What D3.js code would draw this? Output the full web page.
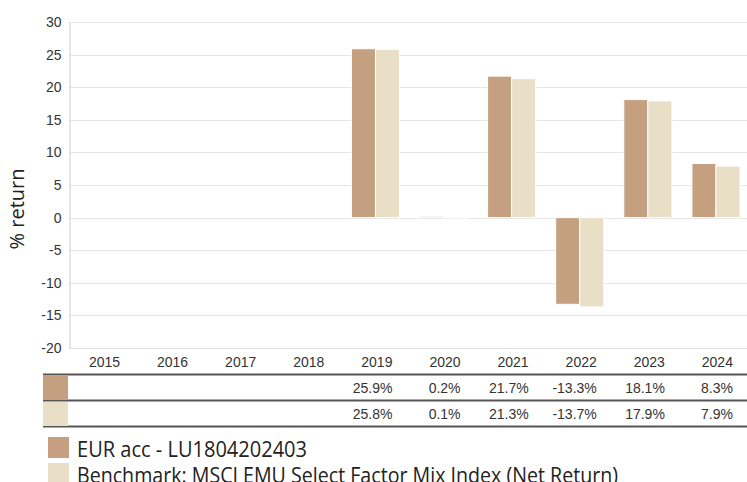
<!DOCTYPE html>
<html>
<head>
<meta charset="utf-8">
<script src="https://cdn.jsdelivr.net/npm/d3@7"></script>
<style>
  body { margin: 0; background: #fff; }
  svg { display: block; }
</style>
</head>
<body>
<div id="chart"></div>
<script>
const years = ["2015", "2016", "2017", "2018", "2019", "2020", "2021", "2022", "2023", "2024"];
const fund = [null, null, null, null, 25.9, 0.2, 21.7, -13.3, 18.1, 8.3];
const bench = [null, null, null, null, 25.8, 0.1, 21.3, -13.7, 17.9, 7.9];
const seriesNames = ["EUR acc - LU1804202403", "Benchmark: MSCI EMU Select Factor Mix Index (Net Return)"];
const colors = ["#c4a080", "#e9dfc7"];
const yTicks = [-20, -15, -10, -5, 0, 5, 10, 15, 20, 25, 30];

const width = 747, height = 482;
const axisFont = "'Liberation Sans', Arial, sans-serif";
const textFont = "'Open Sans', 'Noto Sans', sans-serif";

const svg = d3.select("#chart").append("svg")
    .attr("width", width)
    .attr("height", height);

const x = d3.scaleBand().domain(years).range([69, 750]);
const y = d3.scaleLinear().domain([-20, 30]).range([348, 22]);
const inner = d3.scaleBand().domain([0, 1]).range([10, x.bandwidth() - 10]);

// grid
svg.append("g").selectAll("line")
    .data(yTicks)
    .enter().append("line")
    .attr("x1", 69).attr("x2", 750)
    .attr("y1", d => Math.round(y(d)) + 0.5)
    .attr("y2", d => Math.round(y(d)) + 0.5)
    .attr("stroke", "#e6e6e6");

// y axis
const yAxis = svg.append("g")
    .attr("transform", "translate(69.5,0)")
    .call(d3.axisLeft(y).tickValues(yTicks).tickSize(0).tickPadding(8)
        .tickFormat(d => String(d)));
yAxis.select(".domain").attr("stroke", "#cccccc");
yAxis.selectAll("text")
    .attr("font-family", axisFont)
    .attr("font-size", 14)
    .attr("fill", "#333");

svg.append("text")
    .attr("transform", "translate(24,209) rotate(-90)")
    .attr("text-anchor", "middle")
    .attr("font-family", textFont)
    .attr("font-size", 20)
    .attr("fill", "#222")
    .text("% return");

// bars
const series = [fund, bench];
series.forEach((vals, s) => {
    svg.append("g").selectAll("rect")
        .data(years.map((yr, i) => ({ yr, v: vals[i] })).filter(d => d.v !== null))
        .enter().append("rect")
        .attr("x", d => x(d.yr) + inner(s))
        .attr("width", inner.bandwidth())
        .attr("y", d => y(Math.max(0, d.v)))
        .attr("height", d => Math.max(1, Math.abs(y(d.v) - y(0))))
        .attr("fill", colors[s])
        .attr("stroke", "#fff")
        .attr("stroke-width", 1);
});

// bottom line
svg.append("line")
    .attr("x1", 69).attr("x2", 750)
    .attr("y1", 348.5).attr("y2", 348.5)
    .attr("stroke", "#dddddd");

// year labels
svg.append("g").selectAll("text")
    .data(years)
    .enter().append("text")
    .attr("x", d => x(d) + x.bandwidth() / 2 + 17)
    .attr("y", 367)
    .attr("text-anchor", "end")
    .attr("font-family", axisFont)
    .attr("font-size", 14)
    .attr("fill", "#333")
    .text(d => d);

// table
const rowTop = [375, 401];
[374.5, 400.5, 426.5].forEach(ly => {
    svg.append("line")
        .attr("x1", 43).attr("x2", 747)
        .attr("y1", ly).attr("y2", ly)
        .attr("stroke", "#555")
        .attr("stroke-width", 2);
});
series.forEach((vals, s) => {
    svg.append("rect")
        .attr("x", 43).attr("y", rowTop[s] + 1)
        .attr("width", 25).attr("height", 24)
        .attr("fill", colors[s]);
    svg.append("g").selectAll("text")
        .data(years.map((yr, i) => ({ yr, v: vals[i] })).filter(d => d.v !== null))
        .enter().append("text")
        .attr("x", d => x(d.yr) + x.bandwidth() / 2 + 17)
        .attr("y", rowTop[s] + 18)
        .attr("text-anchor", "end")
        .attr("font-family", axisFont)
        .attr("font-size", 14)
        .attr("fill", "#333")
        .text(d => d.v.toFixed(1) + "%");
});

// legend
const legendWidths = [230, 541];
seriesNames.forEach((name, s) => {
    const ly = 437 + s * 26;
    svg.append("rect")
        .attr("x", 48).attr("y", ly)
        .attr("width", 21).attr("height", 21)
        .attr("fill", colors[s]);
    svg.append("text")
        .attr("x", 77).attr("y", ly + 20)
        .attr("font-family", textFont)
        .attr("font-size", 21)
        .attr("textLength", legendWidths[s])
        .attr("lengthAdjust", "spacingAndGlyphs")
        .attr("fill", "#222")
        .text(name);
});
</script>
</body>
</html>
